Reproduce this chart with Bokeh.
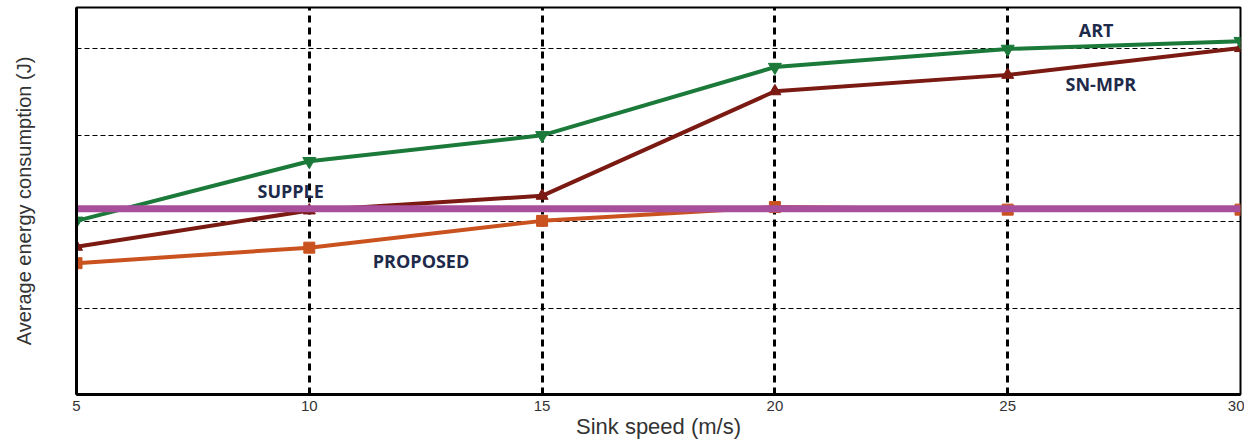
from bokeh.plotting import figure
from bokeh.models import Range1d, FixedTicker, ColumnDataSource
from bokeh.core.properties import value
from bokeh.embed import file_html
from bokeh.resources import INLINE

speed = [5, 10, 15, 20, 25, 30]
art = [2.01, 2.70, 3.00, 3.79, 4.00, 4.09]
snmpr = [1.71, 2.13, 2.30, 3.51, 3.70, 4.01]
supple = [2.15, 2.15, 2.15, 2.15, 2.15, 2.15]
proposed = [1.52, 1.70, 2.01, 2.17, 2.14, 2.14]

label_text = ["ART", "SN-MPR", "SUPPLE", "PROPOSED"]
label_x = [26.9, 27.0, 9.6, 12.4]
label_y = [4.22, 3.59, 2.36, 1.55]

p = figure(width=1244, height=441, output_backend="svg", toolbar_location=None,
           x_range=Range1d(5, 30), y_range=Range1d(0, 4.48),
           min_border_left=76, min_border_right=4, min_border_top=7, min_border_bottom=44)

p.outline_line_color = "black"
p.outline_line_width = 2

p.xaxis.ticker = FixedTicker(ticks=speed)
p.yaxis.ticker = FixedTicker(ticks=[1, 2, 3, 4])
p.yaxis.major_label_overrides = {1: "", 2: "", 3: "", 4: ""}
for ax in (p.xaxis, p.yaxis):
    ax.major_tick_out = 0
    ax.major_tick_in = 0
    ax.minor_tick_out = 0
    ax.minor_tick_in = 0
    ax.axis_line_color = "black"
    ax.axis_line_width = 3
    ax.axis_label_text_font = "Liberation Sans"
    ax.axis_label_text_font_style = "normal"
    ax.axis_label_text_font_size = "22px"
    ax.axis_label_text_color = "#333333"
    ax.major_label_text_font = "Liberation Sans"
    ax.major_label_text_font_size = "15px"
    ax.major_label_text_font_style = "normal"
    ax.major_label_text_color = "#333333"
p.yaxis.axis_label_text_font_size = "20px"
p.xaxis.axis_label = "Sink speed (m/s)"
p.yaxis.axis_label = "Average energy consumption (J)"
p.xaxis.major_label_standoff = 6
p.xaxis.axis_label_standoff = 0
p.yaxis.major_label_standoff = 0
p.yaxis.axis_label_standoff = 42

p.ygrid.grid_line_color = "black"
p.ygrid.grid_line_width = 1
p.ygrid.grid_line_dash = "5 3"
p.xgrid.grid_line_color = "black"
p.xgrid.grid_line_width = 3
p.xgrid.grid_line_dash = "7 5"

p.line(speed, proposed, line_color="#c9521f", line_width=4)
p.scatter(speed, proposed, marker="square", size=11, color="#c9521f")

p.line(speed, snmpr, line_color="#7a1a12", line_width=4)
p.scatter(speed, snmpr, marker="triangle", size=12, color="#7a1a12")

p.line(speed, art, line_color="#1b7a3a", line_width=4)
p.scatter(speed, art, marker="inverted_triangle", size=13, color="#1b7a3a")

p.line(speed, supple, line_color="#a84f9c", line_width=7)

src = ColumnDataSource(dict(x=label_x, y=label_y, t=label_text))
p.text(x="x", y="y", text="t", source=src, text_align="center", text_baseline="middle",
       text_font=value("Open Sans"), text_font_style="bold", text_font_size="18px", text_color="#1e2a4a")

open("out.html", "w").write(file_html(p, INLINE))
